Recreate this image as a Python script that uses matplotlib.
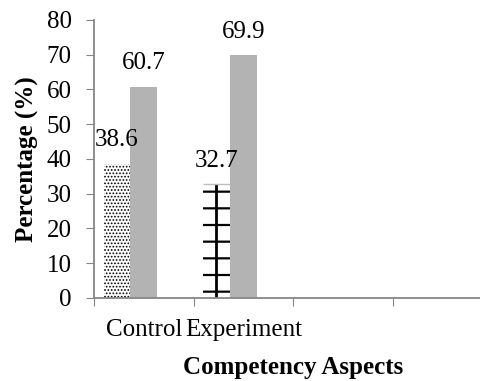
import numpy as np
import matplotlib
matplotlib.use("Agg")
import matplotlib.pyplot as plt

# Data
categories = ["Control", "Experiment", "", ""]
series_a = [38.6, 32.7]      # patterned bars
series_b = [60.7, 69.9]      # gray bars
y_ticks = [0, 10, 20, 30, 40, 50, 60, 70, 80]

plt.rcParams["font.family"] = ["Liberation Serif", "DejaVu Serif"]
plt.rcParams["hatch.linewidth"] = 1.6

fig = plt.figure(figsize=(4.8, 3.81), dpi=100)
ax = fig.add_axes([0.196, 0.218, 0.829, 0.7297])

x = np.arange(len(series_a))
width = 0.27

# first series: dotted for Control, cross pattern for Experiment
bars_a = ax.bar(x - 0.27, series_a, width, color="white", edgecolor="black",
                linewidth=0)
bars_a[0].set_hatch(".....")
if hasattr(bars_a[0], "set_hatch_linewidth"):
    bars_a[0].set_hatch_linewidth(0.8)
bars_a[1].set_hatch("-")
# vertical stroke through the middle of the cross-pattern bar
b = bars_a[1]
ax.vlines(b.get_x() + b.get_width() / 2, 0, b.get_height(), color="black", lw=2)
ax.hlines(b.get_height(), b.get_x(), b.get_x() + b.get_width(), color="#bdbdbd", lw=1)

bars_b = ax.bar(x, series_b, width, color="#b3b3b3", linewidth=0)

ax.bar_label(bars_a, fmt="%.1f", padding=9, fontsize=18)
ax.bar_label(bars_b, fmt="%.1f", padding=9, fontsize=18)

ax.set_xlim(-0.5, len(categories) - 0.5)
ax.set_ylim(0, 80)
ax.set_yticks(y_ticks)
ax.tick_params(axis="y", labelsize=18, length=6, pad=10, color="#868686")

# tick marks on category borders, labels on category centres
ax.set_xticks(np.arange(len(categories)) - 0.5)
ax.set_xticklabels([])
ax.set_xticks(np.arange(len(categories)), minor=True)
ax.set_xticklabels(categories, minor=True)
ax.tick_params(axis="x", which="major", length=6, color="#868686")
ax.tick_params(axis="x", which="minor", length=0, labelsize=18, pad=15)

for side in ["top", "right"]:
    ax.spines[side].set_visible(False)
for side in ["left", "bottom"]:
    ax.spines[side].set_color("#868686")
    ax.spines[side].set_linewidth(1.3)

ax.set_ylabel("Percentage (%)", fontsize=18, fontweight="bold", labelpad=6)
ax.set_xlabel("Competency Aspects", fontsize=18, fontweight="bold", labelpad=11)

fig.savefig("out.png", dpi=100)
